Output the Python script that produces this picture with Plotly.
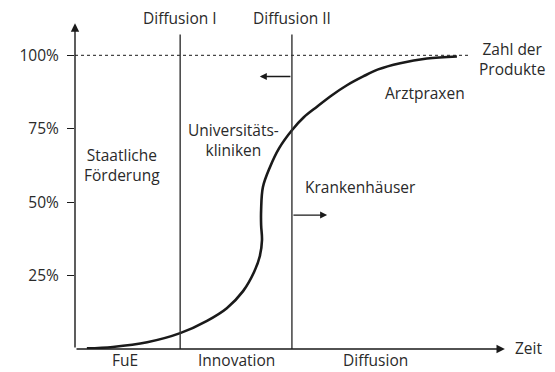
import plotly.graph_objects as go

# Zeitachse (willkürliche Einheiten) und Anteil der Produkte in %
zeit = [2.7, 8.6, 16.4, 23.9, 30.0, 34.5, 38.2, 40.7, 42.0, 42.5, 42.3, 42.3,
        42.7, 44.3, 46.4, 49.3, 52.0, 55.0, 58.4, 61.8, 65.5, 68.9, 73.9,
        80.0, 86.8]
anteil = [0.2, 0.7, 2.3, 5.4, 9.6, 13.9, 19.7, 26.2, 31.6, 37.1, 42.2, 47.3,
          55.1, 61.9, 68.4, 74.5, 78.9, 82.5, 86.4, 89.8, 92.8, 95.2, 97.3,
          98.9, 99.6]

y_ticks = [25, 50, 75, 100]
y_labels = ["25%", "50%", "75%", "100%"]

diffusion_1 = 23.9
diffusion_2 = 49.3

Y_MAX = 111
INK = "#1a1a1a"
FONT = dict(family="Open Sans", size=15.5, color="#2a2a2a")

fig = go.Figure()
fig.add_trace(go.Scatter(
    x=zeit, y=anteil, mode="lines",
    line=dict(color=INK, width=2.6, shape="spline", smoothing=1.0),
    hoverinfo="skip", showlegend=False,
))

# 100%-Linie und Phasengrenzen
fig.add_shape(type="line", x0=0, x1=89.8, y0=100, y1=100,
              line=dict(color=INK, width=1, dash="dot"))
for xv in (diffusion_1, diffusion_2):
    fig.add_shape(type="line", x0=xv, x1=xv, y0=0, y1=107.1,
                  line=dict(color="#333", width=1.4))


def arrow(x0, y0, x1, y1, size=1.0):
    fig.add_annotation(x=x1, y=y1, ax=x0, ay=y0, xref="x", yref="y",
                       axref="x", ayref="y", text="", showarrow=True,
                       arrowhead=2, arrowsize=size, arrowwidth=1.4,
                       arrowcolor=INK, standoff=0, startstandoff=0)


# Achsen mit Pfeilspitzen
arrow(0, 0, 97.7, 0, 1.2)
arrow(0, 0, 0, 110.9, 1.2)
# Richtungspfeile
arrow(diffusion_2, 92.8, 42.0, 92.8)
arrow(diffusion_2, 45.6, 57.3, 45.6)

labels = [
    ("Diffusion I", diffusion_1, 112.6, "center"),
    ("Diffusion II", diffusion_2, 112.6, "center"),
    ("Zahl der<br>Produkte", 99.3, 98.6, "center"),
    ("Arztpraxen", 79.5, 87.1, "center"),
    ("Universitäts-<br>kliniken", 36.1, 71.1, "center"),
    ("Staatliche<br>Förderung", 10.7, 62.6, "center"),
    ("Krankenhäuser", 64.8, 55.1, "center"),
    ("FuE", 11.4, -3.8, "center"),
    ("Innovation", 36.8, -3.8, "center"),
    ("Diffusion", 68.2, -3.8, "center"),
    ("Zeit", 99.5, 0.3, "left"),
]
for text, x, y, anchor in labels:
    # Papierkoordinaten, damit Texte außerhalb des Achsenbereichs sichtbar bleiben
    fig.add_annotation(x=x / 100, y=y / Y_MAX, xref="paper", yref="paper",
                       text=text, showarrow=False, xanchor=anchor,
                       yanchor="middle", align="center", font=FONT)

fig.update_xaxes(range=[0, 100], visible=False, fixedrange=True)
fig.update_yaxes(range=[0, Y_MAX], tickvals=y_ticks, ticktext=y_labels,
                 ticks="outside", ticklen=7, tickwidth=1.2, tickcolor=INK,
                 ticklabelstandoff=5,
                 showgrid=False, zeroline=False, showline=False,
                 tickfont=FONT, fixedrange=True)
fig.update_layout(
    width=547, height=364,
    margin=dict(l=67, r=40, t=15, b=23),
    paper_bgcolor="white", plot_bgcolor="white",
    showlegend=False,
)
fig.write_html("out.html")
